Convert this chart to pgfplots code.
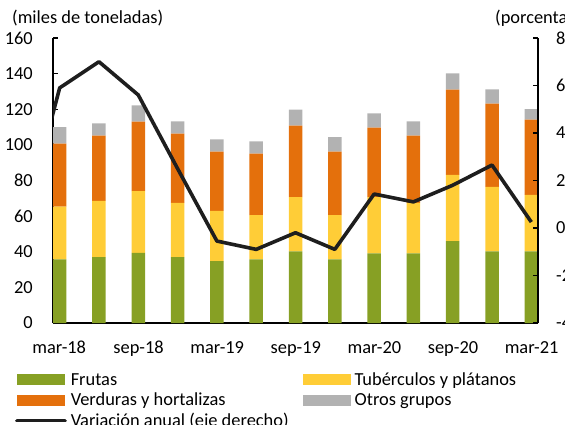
\documentclass[border=0pt]{standalone}
\usepackage{fontspec}
\setmainfont{Carlito}
\usepackage{pgfplots}
\usepackage{pgfplotstable}
\pgfplotsset{compat=1.18}
\definecolor{cverde}{RGB}{135,160,36}
\definecolor{camar}{RGB}{255,205,55}
\definecolor{cnar}{RGB}{228,112,12}
\definecolor{cgris}{RGB}{178,178,178}
\definecolor{clin}{RGB}{30,30,30}
\pgfplotsset{
  barleg/.style={legend image code/.code={\path[##1] (0bp,0bp) rectangle (48bp,11bp);}},
  linleg/.style={legend image code/.code={\draw[##1] (0bp,5.5bp) -- (48bp,5.5bp);}},
}

\pgfplotstableread{
x  fr    tu    ve    ot
0  35.7  29.6  35.4  9.2
1  37.0  31.5  36.7  6.9
2  39.3  34.8  38.9  9.2
3  37.0  30.4  38.9  6.9
4  34.8  28.1  33.3  6.9
5  35.7  24.9  34.5  6.9
6  40.2  30.5  40.1  9.0
7  35.7  24.9  35.6  8.1
8  39.1  31.6  39.0  8.0
9  39.1  28.3  37.8  8.0
10 46.0  37.1  47.9  9.2
11 40.2  36.2  46.7  8.1
12 40.2  31.7  42.3  5.8
}\datos

\pgfplotstableread{
x   v
-1  -0.4
0   5.9
1   7.0
2   5.6
3   2.5
4   -0.55
5   -0.9
6   -0.2
7   -0.9
8   1.43
9   1.1
10  1.8
11  2.65
12  0.25
}\linea

\begin{document}
\begin{tikzpicture}[font=\fontsize{18.4bp}{22bp}\selectfont]
\begin{axis}[
  at={(0,0)}, anchor=south west,
  scale only axis, width=485bp, height=285bp,
  xmin=-0.17, xmax=12.17, ymin=0, ymax=160,
  ybar stacked, bar width=13.5bp,
  axis x line*=bottom, axis y line*=left,
  axis line style={line width=1.6bp, black, -},
  tick style={line width=1.2bp, black},
  major tick length=5bp, tick align=inside,
  ytick={0,20,...,160},
  yticklabels={0,20,40,60,80,100,120,140,160},
  yticklabel style={anchor=east, inner sep=0pt, xshift=-20bp},
  xtick={-0.17,1.85,3.85,5.85,7.85,9.85,11.85},
  xticklabels={mar-18,sep-18,mar-19,sep-19,mar-20,sep-20,mar-21},
  xticklabel style={anchor=base, inner sep=0pt, yshift=-30bp, xshift=6.2bp},
  legend columns=2,
  legend style={at={(axis description cs:-0.0784,-0.1754)}, anchor=north west,
    draw=none, fill=none, inner sep=0pt, row sep=4.5bp,
    nodes={inner sep=0pt, text height=12bp, text depth=4bp, anchor=base west},
    /tikz/every odd column/.append style={column sep=4bp},
    /tikz/every even column/.append style={column sep=14bp}},
  legend cell align=left,
]
\addplot[fill=cverde, draw=none, barleg] table[x=x,y=fr] {\datos};
\addlegendentry{Frutas}
\addplot[fill=camar, draw=none, barleg] table[x=x,y=tu] {\datos};
\addlegendentry{Tubérculos y plátanos}
\addplot[fill=cnar, draw=none, barleg] table[x=x,y=ve] {\datos};
\addlegendentry{Verduras y hortalizas}
\addplot[fill=cgris, draw=none, barleg] table[x=x,y=ot] {\datos};
\addlegendentry{Otros grupos}
\addlegendimage{clin, line width=3.6bp, line cap=round, linleg}
\addlegendentry{Variación anual (eje derecho)}
\end{axis}
\begin{axis}[
  at={(0,0)}, anchor=south west,
  scale only axis, width=485bp, height=285bp,
  xmin=-0.17, xmax=12.17, ymin=-4, ymax=8,
  axis y line*=right, axis x line=none,
  axis line style={line width=1.6bp, black, -},
  tick style={line width=1.2bp, black},
  major tick length=5bp, tick align=inside,
  ytick={-4,-2,0,2,4,6,8},
  yticklabels={-4,-2,0,2,4,6,8},
  yticklabel style={anchor=west, inner sep=0pt, xshift=18bp},
]
\addplot[clin, line width=3.6bp, line join=round] table[x=x,y=v] {\linea};
\end{axis}
\node[anchor=base west, inner sep=0pt] at (-41bp,299bp) {(miles de toneladas)};
\node[anchor=base west, inner sep=0pt] at (442bp,299bp) {(porcentaje)};
\pgfresetboundingbox
\path[use as bounding box] (-53bp,-102bp) rectangle (512bp,323bp);
\end{tikzpicture}
\end{document}
